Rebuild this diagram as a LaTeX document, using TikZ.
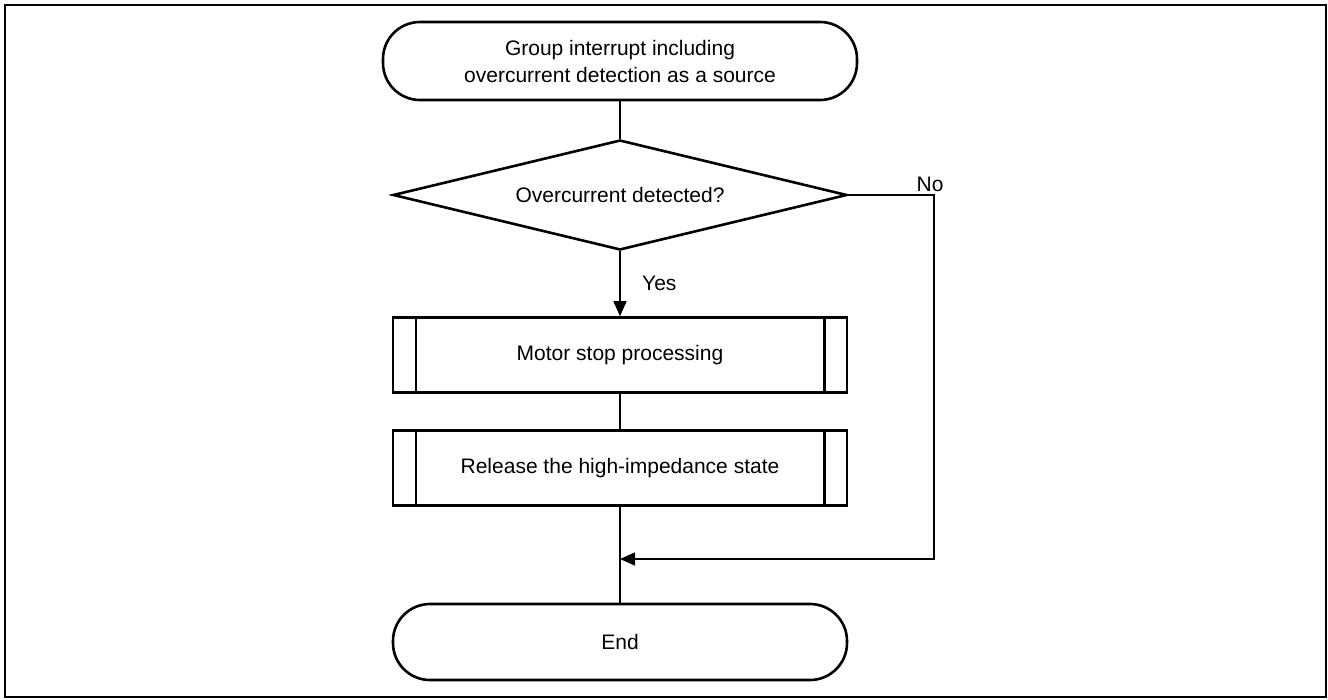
\documentclass[tikz,border=0pt]{standalone}
\usepackage{fontspec}
\setmainfont{Liberation Sans}
\usetikzlibrary{shapes.geometric,arrows.meta}
\begin{document}
\begin{tikzpicture}[x=1pt,y=-1pt,
  every node/.style={font=\fontsize{21}{27}\selectfont, align=center},
  shapeline/.style={draw, line width=2.6pt, fill=white},
  term/.style={shapeline, rectangle, rounded corners=37pt, minimum width=454pt, minimum height=76pt, inner sep=0pt},
  proc/.style={shapeline, rectangle, minimum width=454pt, minimum height=75pt, inner sep=0pt},
  decide/.style={shapeline, diamond, minimum width=454pt, minimum height=110pt, aspect=4.13, inner sep=0pt},
  conn/.style={line width=1.3pt},
  arr/.style={conn, -{Triangle[length=15pt,width=13pt]}},
  lbl/.style={font=\fontsize{21}{27}\selectfont}
]
\useasboundingbox (0,0) rectangle (1328,699);
\draw[line width=2.2pt] (5,5) rectangle (1326,697);

\node[term, minimum width=474pt, minimum height=78pt, rounded corners=37pt] (start) at (620,61)
  {Group interrupt including\\overcurrent detection as a source};
\node[decide] (dia) at (620,195) {Overcurrent detected?};
\node[proc] (b1) at (620,355) {Motor stop processing};
\node[proc] (b2) at (620,468) {Release the high-impedance state};
\node[term] (end) at (620,642) {End};

\foreach \b in {b1,b2}{
  \draw[line width=2.4pt] ([xshift=24pt]\b.north west) -- ([xshift=24pt]\b.south west);
  \draw[line width=2.4pt] ([xshift=-24pt]\b.north east) -- ([xshift=-24pt]\b.south east);
}

\coordinate (nc) at (934,559);
\coordinate (m) at (620,559);

\draw[conn] (start.south) -- (dia.north);
\draw[arr] (dia.south) -- (b1.north);
\draw[conn] (b1.south) -- (b2.north);
\draw[conn] (b2.south) -- (end.north);
\draw[arr] (dia.east) -| (nc) -- (m);

\node[lbl, anchor=base west, inner sep=0pt] (yes) at (642,290) {Yes};
\node[lbl, anchor=base, inner sep=0pt] (no) at (930,191) {No};
\end{tikzpicture}
\end{document}
